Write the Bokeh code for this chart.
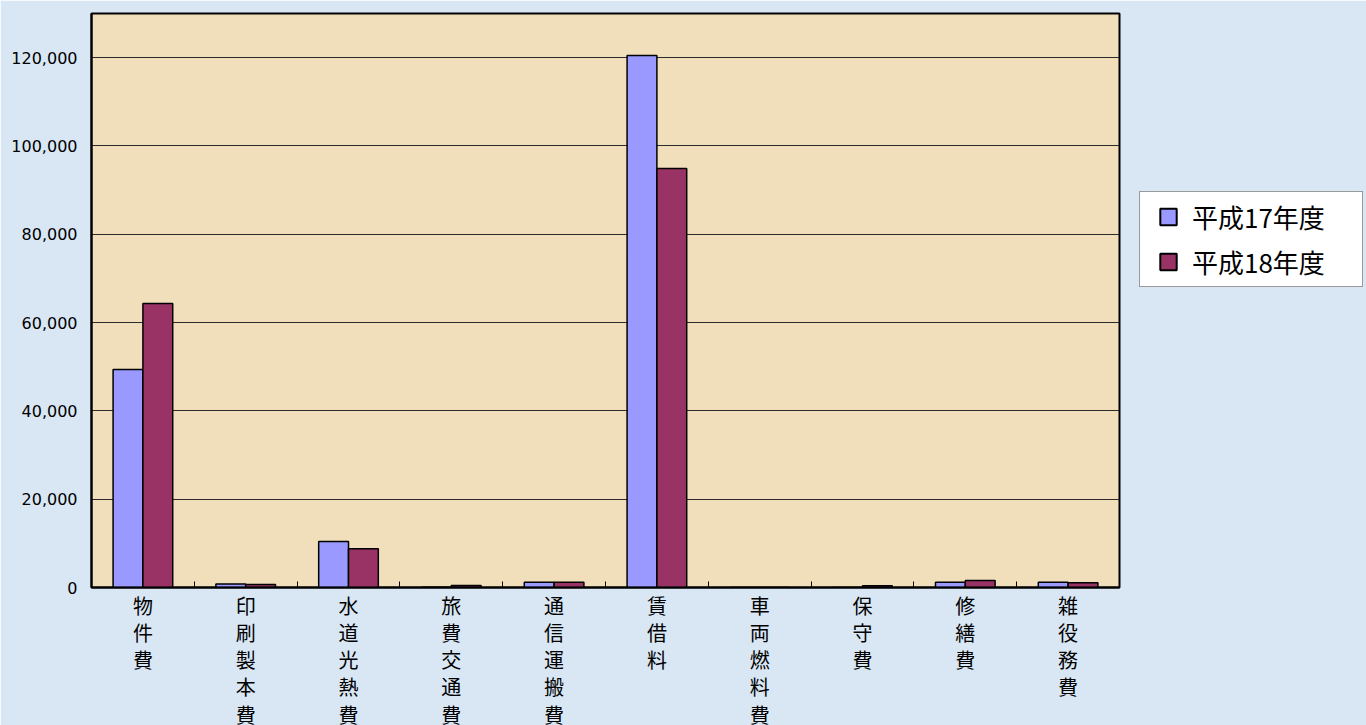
import numpy as np
from bokeh.plotting import figure
from bokeh.models import ColumnDataSource, FixedTicker, NumeralTickFormatter, Legend, LegendItem, Range1d
from bokeh.embed import file_html
from bokeh.resources import INLINE

categories = ["物件費", "印刷製本費", "水道光熱費", "旅費交通費", "通信運搬費",
              "賃借料", "車両燃料費", "保守費", "修繕費", "雑役務費"]
h17 = [49400, 800, 10400, 50, 1200, 120500, 0, 0, 1200, 1200]
h18 = [64300, 700, 8800, 450, 1200, 94900, 0, 400, 1600, 1050]
series_names = ["平成17年度", "平成18年度"]
series_colors = ["#9999ff", "#993366"]
y_ticks = [0, 20000, 40000, 60000, 80000, 100000, 120000]

FONT = "Noto Sans CJK JP"
n = len(categories)
centers = list(range(1, n + 1))
bw = 0.29

src = ColumnDataSource(dict(
    x17=[c - bw / 2 for c in centers],
    x18=[c + bw / 2 for c in centers],
    h17=h17, h18=h18,
))

p = figure(width=1366, height=725, output_backend="svg", toolbar_location=None,
           x_range=Range1d(0.5, n + 0.5), y_range=Range1d(0, 130000),
           min_border_left=91, min_border_top=13, min_border_bottom=5,
           min_border_right=5)
p.frame_width = 1028
p.frame_height = 574
p.background_fill_color = "#f1dfbb"
p.border_fill_color = "#d9e7f5"
p.outline_line_color = "black"
p.outline_line_width = 2

r17 = p.vbar(x="x17", top="h17", width=bw, source=src, fill_color=series_colors[0],
             line_color="black", line_width=1.5)
r18 = p.vbar(x="x18", top="h18", width=bw, source=src, fill_color=series_colors[1],
             line_color="black", line_width=1.5)

# legend swatches: square markers whose single point has no position (not drawn in the plot)
nan_pt = np.array([np.nan])
sw17 = p.scatter(x=nan_pt, y=nan_pt, marker="square", fill_color=series_colors[0],
                 line_color="black", line_width=2)
sw18 = p.scatter(x=nan_pt, y=nan_pt, marker="square", fill_color=series_colors[1],
                 line_color="black", line_width=2)

# x axis
xa = p.xaxis[0]
xa.ticker = FixedTicker(ticks=centers, minor_ticks=[c + 0.5 for c in range(0, n + 1)])
xa.major_label_overrides = {c: "\n".join(list(cat)) for c, cat in zip(centers, categories)}
xa.major_tick_in = 0
xa.major_tick_out = 0
xa.minor_tick_in = 6
xa.minor_tick_out = 0
xa.minor_tick_line_color = "black"
xa.axis_line_color = "black"
xa.axis_line_width = 2
xa.major_label_text_font = FONT
xa.major_label_text_font_size = "20px"
xa.major_label_text_color = "black"
xa.major_label_text_line_height = 0.94
xa.major_label_standoff = 3
p.xgrid.visible = False

# y axis
ya = p.yaxis[0]
ya.ticker = FixedTicker(ticks=y_ticks)
ya.formatter = NumeralTickFormatter(format="0,0")
ya.major_tick_in = 0
ya.major_tick_out = 0
ya.minor_tick_line_color = None
ya.axis_line_color = "black"
ya.axis_line_width = 2
ya.major_label_text_font = "DejaVu Sans"
ya.major_label_text_font_size = "16px"
ya.major_label_text_color = "black"
ya.major_label_standoff = 14
p.ygrid.ticker = FixedTicker(ticks=y_ticks)
p.ygrid.grid_line_color = "#2a2a2a"
p.ygrid.grid_line_width = 1

legend = Legend(items=[LegendItem(label=series_names[0], renderers=[sw17]),
                       LegendItem(label=series_names[1], renderers=[sw18])],
                location=(20, 300))
legend.label_text_font = FONT
legend.label_text_font_size = "26px"
legend.label_text_color = "black"
legend.label_height = 10
legend.label_width = 166
legend.glyph_width = 48
legend.glyph_height = 41
legend.label_standoff = 0
legend.spacing = 4
legend.padding = 4
legend.margin = 0
legend.border_line_color = "#333333"
legend.border_line_width = 1
legend.background_fill_color = "white"
legend.background_fill_alpha = 1
p.add_layout(legend, "right")

html = file_html(p, INLINE)
html = html.replace("<body>", '<body style="background:#d9e7f5">', 1)
open("out.html", "w").write(html)
